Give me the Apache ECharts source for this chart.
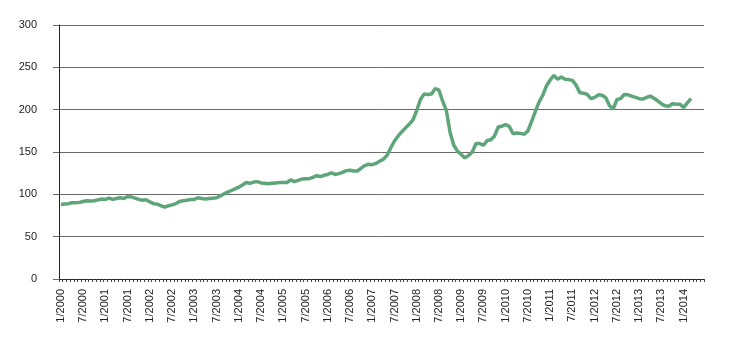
<!DOCTYPE html>
<html>
<head>
<meta charset="utf-8">
<script src="https://cdn.jsdelivr.net/npm/echarts@6/dist/echarts.min.js"></script>
<style>
  html, body { margin: 0; padding: 0; background: #fff; }
  #chart { width: 730px; height: 346px; }
</style>
</head>
<body>
<div id="chart"></div>
<script>
// Monthly categories, January 2000 through June 2014
const months = [];
for (let y = 2000; y <= 2014; y++) {
  for (let m = 1; m <= 12; m++) {
    if (y === 2014 && m > 6) break;
    months.push(m + '/' + y);
  }
}

// Index values by year (Jan..Dec)
const v2000 = [88, 88.5, 89, 90, 90, 90.5, 91.5, 92.5, 92, 92.5, 93.5, 94.5];
const v2001 = [94, 95.5, 94, 95, 96, 95, 97.5, 97, 95.5, 94, 93, 93.5];
const v2002 = [91, 89, 88.5, 86.5, 85, 86.5, 87.5, 89, 91.5, 92.5, 93, 94];
const v2003 = [94, 96, 95, 94.5, 95, 95.5, 96, 98, 100.5, 102.5, 104.5, 106.5];
const v2004 = [108.5, 111, 114, 113, 114.5, 115, 113.5, 113, 112.5, 113, 113.5, 114];
const v2005 = [114, 114, 117, 115, 116.5, 118, 118.5, 118.5, 120, 122, 121, 122.5];
const v2006 = [123.5, 125.5, 123.5, 124.5, 126, 128, 128.5, 127.5, 127.5, 131, 134, 135.5];
const v2007 = [135, 136.5, 139, 141.5, 146, 155, 163, 169, 174, 178.5, 183, 188];
const v2008 = [199, 212, 218.5, 218, 218.5, 225, 223, 210, 199, 173, 158, 151];
const v2009 = [147, 143, 146, 150, 160, 160, 158, 163.5, 164.5, 169, 179.5, 180.5];
const v2010 = [182.5, 180, 171.5, 172.5, 172, 171, 175, 186, 198, 209, 217, 228];
const v2011 = [235, 240.5, 236, 238.5, 236, 235.5, 234.5, 229, 220, 219.5, 218, 213];
const v2012 = [214.5, 217.5, 217, 214, 205, 200.5, 212, 213, 218, 217.5, 216, 214.5];
const v2013 = [213, 212.5, 214.5, 216, 213.5, 210.5, 207, 204.5, 204, 207, 206.5, 206.5];
const v2014 = [202.5, 208, 213];

const values = [].concat(v2000, v2001, v2002, v2003, v2004, v2005, v2006,
  v2007, v2008, v2009, v2010, v2011, v2012, v2013, v2014);

const yTicks = { min: 0, max: 300, interval: 50 };

const chart = echarts.init(document.getElementById('chart'), null, { renderer: 'canvas' });
chart.setOption({
  animation: false,
  backgroundColor: '#ffffff',
  grid: { left: 59, right: 26, top: 25, bottom: 67 },
  xAxis: {
    type: 'category',
    data: months,
    boundaryGap: true,
    axisLine: { lineStyle: { color: '#222', width: 1 } },
    axisTick: { show: true, interval: 0, length: 3, lineStyle: { color: '#444' } },
    axisLabel: {
      interval: 5,
      rotate: 90,
      margin: 10,
      fontFamily: 'Liberation Sans',
      fontSize: 11,
      color: '#222'
    },
    splitLine: { show: false }
  },
  yAxis: {
    type: 'value',
    min: yTicks.min,
    max: yTicks.max,
    interval: yTicks.interval,
    axisLine: { show: true, lineStyle: { color: '#222', width: 1 } },
    axisTick: { show: true, length: 6, lineStyle: { color: '#6a6a6a' } },
    axisLabel: {
      margin: 22,
      fontFamily: 'Liberation Sans',
      fontSize: 11,
      color: '#222'
    },
    splitLine: { show: true, lineStyle: { color: '#6a6a6a', width: 1 } }
  },
  series: [{
    type: 'line',
    data: values,
    showSymbol: false,
    symbol: 'none',
    smooth: false,
    lineStyle: { color: '#5ea57a', width: 3.5 },
    itemStyle: { color: '#5ea57a' }
  }]
});
</script>
</body>
</html>
